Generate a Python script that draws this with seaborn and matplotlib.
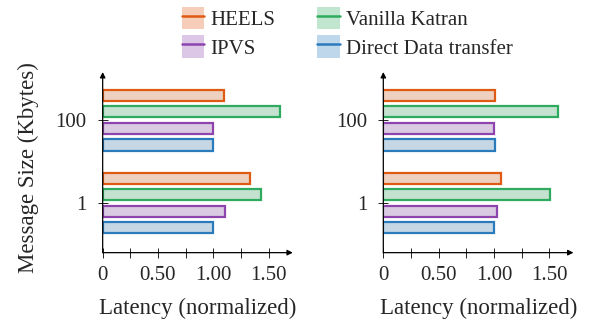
import numpy as np
import pandas as pd
import matplotlib
matplotlib.use("Agg")
import matplotlib.pyplot as plt
import seaborn as sns
from matplotlib.patches import Patch
from matplotlib.lines import Line2D
from matplotlib.ticker import FixedLocator, FixedFormatter

# ---- data ----
sizes = ["100", "1"]
methods = ["HEELS", "Vanilla Katran", "IPVS", "Direct Data transfer"]
left_100 = [1.10, 1.60, 1.00, 1.00]
left_1 = [1.33, 1.43, 1.11, 1.00]
right_100 = [1.01, 1.58, 1.00, 1.01]
right_1 = [1.06, 1.51, 1.03, 1.00]
xticks_major = [0, 0.5, 1.0, 1.5]
xtick_labels = ["0", "0.50", "1.00", "1.50"]
xticks_minor = [0.25, 0.75, 1.25]

edge_colors = ["#DF5A12", "#2EAB5E", "#8E44AD", "#2A7BBB"]


def lighten(c, f=0.3):
    r, g, b = matplotlib.colors.to_rgb(c)
    return (1 - f + f * r, 1 - f + f * g, 1 - f + f * b)


fill_colors = [lighten(c, 0.3) for c in edge_colors]

sns.set_theme(style="white")
plt.rcParams["font.family"] = ["Liberation Serif", "DejaVu Serif"]

FS_LABEL = 16.5
FS_TICK = 15
FS_LEG = 15

fig = plt.figure(figsize=(5.98, 3.26), dpi=100)
axL = fig.add_axes([0.1717, 0.225, 0.318, 0.554])
axR = fig.add_axes([0.641, 0.225, 0.318, 0.554])


def make_df(v100, v1):
    rows = []
    for m, a in zip(methods, v100):
        rows.append({"size": "100", "method": m, "latency": a})
    for m, a in zip(methods, v1):
        rows.append({"size": "1", "method": m, "latency": a})
    return pd.DataFrame(rows)


for ax, (v100, v1) in zip([axL, axR], [(left_100, left_1), (right_100, right_1)]):
    df = make_df(v100, v1)
    sns.barplot(data=df, y="size", x="latency", hue="method", order=sizes,
                hue_order=methods, orient="h", width=0.8, gap=0.33,
                palette=fill_colors, ax=ax, legend=False, errorbar=None)
    for cont, ec in zip(ax.containers, edge_colors):
        for p in cont:
            p.set_edgecolor(ec)
            p.set_linewidth(1.6)
    ax.set_xlim(0, 1.72)
    ax.set_ylim(1.6, -0.58)
    for s in ax.spines.values():
        s.set_visible(False)
    ax.annotate("", xy=(1.0, 0), xytext=(0, 0), xycoords="axes fraction",
                arrowprops=dict(arrowstyle="-|>", color="black", lw=0.9,
                                mutation_scale=8, shrinkA=0, shrinkB=0))
    ax.annotate("", xy=(0, 1.0), xytext=(0, 0), xycoords="axes fraction",
                arrowprops=dict(arrowstyle="-|>", color="black", lw=0.9,
                                mutation_scale=8, shrinkA=0, shrinkB=0))
    ax.xaxis.set_major_locator(FixedLocator(xticks_major))
    ax.xaxis.set_major_formatter(FixedFormatter(xtick_labels))
    ax.xaxis.set_minor_locator(FixedLocator(xticks_minor))
    ax.tick_params(axis="x", which="both", direction="inout", length=7,
                   width=0.6, color="black", labelsize=FS_TICK, pad=6,
                   bottom=True)
    ax.tick_params(axis="y", which="both", direction="inout", length=7,
                   width=0.6, color="black", labelsize=FS_TICK, pad=8,
                   left=True)
    ax.set_xlabel("Latency (normalized)", fontsize=FS_LABEL, labelpad=9)
    ax.set_ylabel("")
    ax.grid(False)

axL.set_ylabel("Message Size (Kbytes)", fontsize=FS_LABEL)
axL.yaxis.set_label_coords(-0.335, 0.469)

handles = []
for fc, ec in zip(fill_colors, edge_colors):
    handles.append((Patch(facecolor=fc, edgecolor="none"),
                    Line2D([], [], color=ec, lw=1.8)))
order_idx = [0, 2, 1, 3]
leg = fig.legend([handles[i] for i in order_idx], [methods[i] for i in order_idx],
                 ncol=2, loc="center", bbox_to_anchor=(0.581, 0.9),
                 frameon=False, fontsize=FS_LEG, handlelength=1.1,
                 handleheight=1.3, handletextpad=0.3, columnspacing=2.0,
                 labelspacing=0.25, borderpad=0)

fig.savefig("out.png", dpi=100)
